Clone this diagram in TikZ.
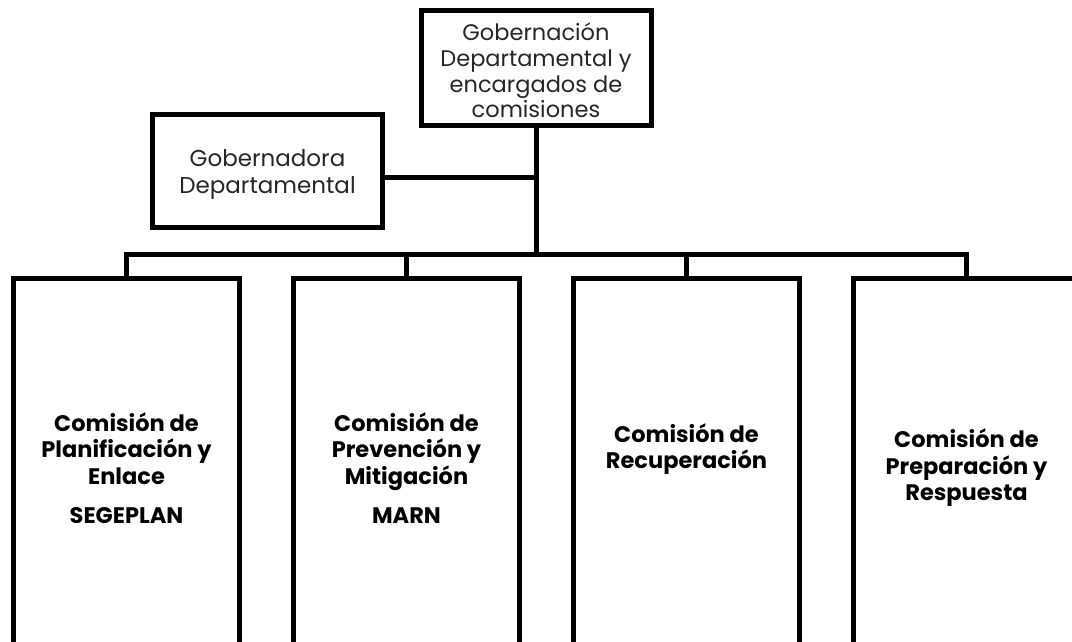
\documentclass[tikz,border=0pt]{standalone}
\usepackage{fontspec}
\setmainfont{Poppins}
\begin{document}
\begin{tikzpicture}[x=1pt,y=-1pt,
  box/.style={draw=black, line width=5pt, fill=white, inner sep=0pt},
  conn/.style={draw=black, line width=5pt},
  lbl/.style={align=center, font=\fontsize{22.5}{25.6}\selectfont, text=black!85},
  lblb/.style={align=center, font=\fontsize{23}{27}\selectfont, text=black!85},
  blbl/.style={align=center, font=\fontsize{22.5}{26.5}\selectfont\bfseries, text=black}]
\useasboundingbox (0,0) rectangle (1072,642);
\clip (0,0) rectangle (1072,642);
% boxes
\node[box, minimum width=230pt, minimum height=115pt] (gd) at (536,68) {};
\node[box, minimum width=230pt, minimum height=113pt] (gobra) at (267.5,171) {};
\node[box, minimum width=226pt, minimum height=400pt] (b1) at (126.5,478.5) {};
\node[box, minimum width=226pt, minimum height=400pt] (b2) at (406.5,478.5) {};
\node[box, minimum width=226pt, minimum height=400pt] (b3) at (686.5,478.5) {};
\node[box, minimum width=226pt, minimum height=400pt] (b4) at (966.5,478.5) {};
% texts
\node[lbl] (tgd) at (536,70.5) {Gobernación\\Departamental y\\encargados de\\comisiones};
\node[lblb] (tgobra) at (267.5,174) {Gobernadora\\Departamental};
\node[blbl] (t1) at (126.5,468) {Comisión de\\Planificación y\\Enlace\\[13pt]SEGEPLAN};
\node[blbl] (t2) at (406.5,468) {Comisión de\\Prevención y\\Mitigación\\[13pt]MARN};
\node[blbl] (t3) at (686.5,449) {Comisión de\\Recuperación};
\node[blbl] (t4) at (966.5,468) {Comisión de\\Preparación y\\Respuesta};
% connectors
\coordinate (busy) at (0,254);
\coordinate (liny) at (0,177);
\draw[conn] (gd.south) -- (gd.south |- busy);
\draw[conn] (gobra.east |- liny) -- (gd.south |- liny);
\draw[conn] (b1.north) -- (b1.north |- busy) -- (b4.north |- busy) -- (b4.north);
\draw[conn] (b2.north) -- (b2.north |- busy);
\draw[conn] (b3.north) -- (b3.north |- busy);
\end{tikzpicture}
\end{document}
